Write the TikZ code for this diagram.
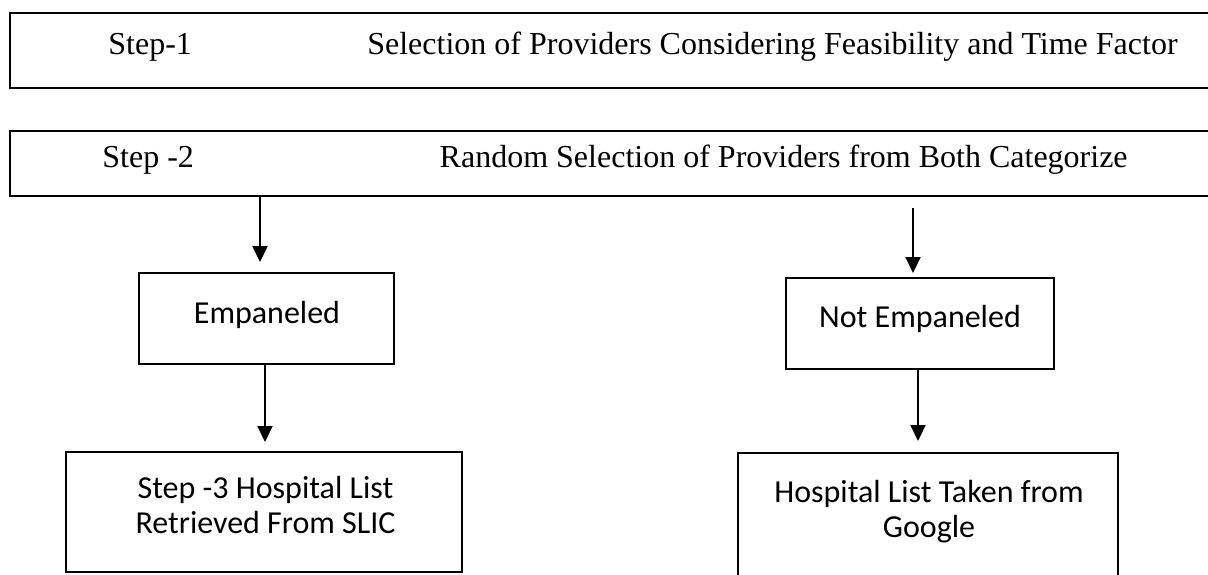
\documentclass[tikz,border=0pt]{standalone}
\usepackage{fontspec}
\setmainfont{Liberation Serif}
\newfontfamily\calib{Carlito}
\usetikzlibrary{arrows.meta}
\begin{document}
\begin{tikzpicture}[x=0.5pt,y=-0.5pt,
 box/.style={draw,line width=1pt,rectangle,inner sep=0pt},
 serif/.style={font=\fontsize{16pt}{18pt}\selectfont,inner sep=0pt},
 sans/.style={font=\calib\fontsize{16pt}{18pt}\selectfont,inner sep=0pt,anchor=base},
 arr/.style={line width=1pt,-{Triangle[length=8pt,width=7.5pt]}}]
\useasboundingbox (0,0) rectangle (1208,574);
\clip (0,0) rectangle (1208,574);
\node[box,minimum width=610pt,minimum height=37.5pt] (s1) at (620,50.5) {};
\node[serif,anchor=base west] (s1a) at (108,54) {Step-1};
\node[serif,anchor=base east] (s1b) at (1178,54) {Selection of Providers Considering Feasibility and Time Factor};
\node[box,minimum width=610pt,minimum height=32.5pt] (s2) at (620,163.5) {};
\node[serif,anchor=base west] (s2a) at (102,167) {Step -2};
\node[serif,anchor=base east] (s2b) at (1128,167) {Random Selection of Providers from Both Categorize};
\node[box,minimum width=127.5pt,minimum height=45.5pt] (e) at (266.5,318.5) {};
\node[sans] (et) at (267,323) {Empaneled};
\node[box,minimum width=134pt,minimum height=45.5pt] (ne) at (920,323.5) {};
\node[sans] (net) at (920,327) {Not Empaneled};
\node[box,minimum width=198pt,minimum height=60pt] (h1) at (264,512) {};
\node[sans] (h1a) at (265.5,498) {Step -3 Hospital List};
\node[sans] (h1b) at (265.5,533) {Retrieved From SLIC};
\node[box,minimum width=190pt,minimum height=73.5pt] (h2) at (928,526.5) {};
\node[sans] (h2a) at (929,502) {Hospital List Taken from};
\node[sans] (h2b) at (929,537) {Google};
\draw[arr] ([xshift=-3.25pt]e.north |- s2.south) -- ([xshift=-3.25pt,yshift=5pt]e.north);
\draw[arr] ([xshift=-3.5pt,yshift=-5.5pt]ne.north |- s2.south) -- ([xshift=-3.5pt,yshift=2pt]ne.north);
\draw[arr] ([xshift=-0.75pt]e.south) -- ([xshift=-0.75pt,yshift=4.5pt]e.south |- h1.north);
\draw[arr] ([xshift=-1pt]ne.south) -- ([xshift=-1pt,yshift=5.5pt]ne.south |- h2.north);
\end{tikzpicture}
\end{document}
